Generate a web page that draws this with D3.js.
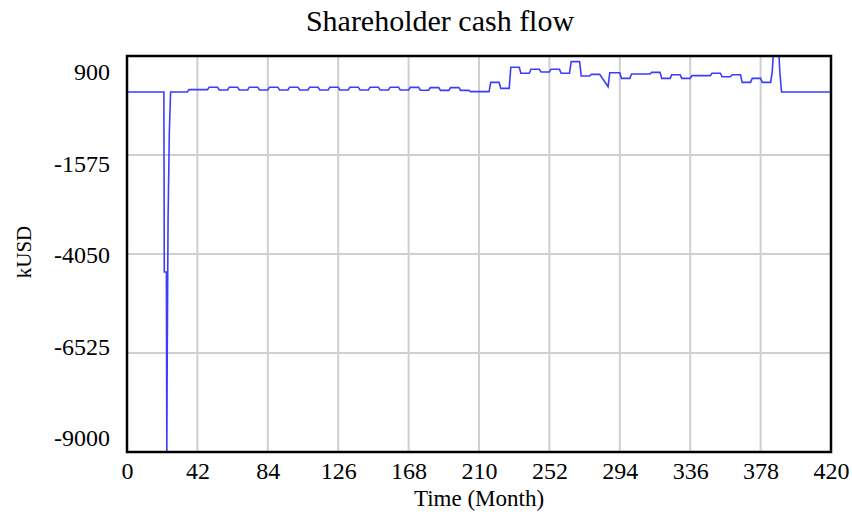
<!DOCTYPE html>
<html>
<head>
<meta charset="utf-8">
<script src="https://cdn.jsdelivr.net/npm/d3@7"></script>
<style>
  body { margin: 0; background: #fff; }
  text { font-family: "Liberation Serif", "Times New Roman", serif; fill: #000; }
</style>
</head>
<body>
<svg id="chart" width="852" height="515"></svg>
<script>
// Axis ticks
const monthTicks = [0, 42, 84, 126, 168, 210, 252, 294, 336, 378, 420];
const valueTicks = [900, -1575, -4050, -6525, -9000];

// Shareholder cash flow (kUSD) at each corner of the simulated curve
const timeMonths = [
  0, 22, 22.25, 23.5, 23.75, 24, 24.5, 25.25, 26,
  36, 37, 48, 49, 54, 55, 60, 61, 66, 67, 72, 73, 78, 79, 84, 85, 90, 91, 96,
  97, 102, 103, 108, 109, 114, 115, 120, 121, 126, 127, 132, 133, 138, 139, 144,
  145, 150, 151, 156, 157, 162, 163, 168, 169, 174, 175, 180, 181, 186, 187, 192,
  193, 198, 199, 204, 205, 216, 217, 222, 223, 228, 229, 234, 235, 240, 241, 246,
  247, 252, 253, 258, 259, 264, 265, 270, 271, 276, 277, 282, 287, 288, 294, 295,
  300, 301, 312, 313, 318, 319, 324, 325, 330, 331, 336, 337, 348, 349, 354, 355,
  360, 361, 366, 367, 372, 373, 378, 379, 384, 385, 385.5, 389, 389.5, 390.5, 420
];
const cashFlowKUSD = [
  0, 0, -4500, -4500, -9000, -6600, -3200, -1000, 0,
  0, 60, 60, 120, 120, 50, 50, 120, 120, 50, 50, 120, 120, 50, 50, 120, 120, 50, 50,
  120, 120, 50, 50, 120, 120, 50, 50, 120, 120, 50, 50, 120, 120, 50, 50,
  120, 120, 50, 50, 120, 120, 50, 50, 115, 115, 45, 45, 110, 110, 40, 40,
  110, 110, 40, 40, 10, 10, 240, 240, 90, 90, 620, 620, 470, 470, 570, 570,
  500, 500, 570, 570, 470, 470, 760, 760, 400, 400, 440, 440, 130, 480, 480, 340,
  340, 450, 450, 490, 490, 340, 340, 430, 430, 340, 340, 410, 410, 470, 470, 380,
  380, 430, 430, 240, 240, 340, 340, 240, 240, 530, 900, 900, 480, 0, 0
];

const svg = d3.select("#chart");
const plot = { left: 127, right: 831, top: 56, bottom: 452 };

const x = d3.scaleLinear().domain([0, 420]).range([plot.left, plot.right]);
const y = d3.scaleLinear().domain([-9000, 900]).range([plot.bottom, plot.top]);
// value labels sit slightly inside the frame, spread between its edges
const yLabel = d3.scaleLinear().domain([-9000, 900]).range([plot.bottom - 14, plot.top + 16]);

// grid
const grid = svg.append("g").attr("stroke", "#cfcfcf").attr("stroke-width", 2);
grid.selectAll("line.v").data(monthTicks.slice(1, -1)).join("line")
  .attr("class", "v")
  .attr("x1", d => x(d)).attr("x2", d => x(d))
  .attr("y1", plot.top).attr("y2", plot.bottom);
grid.selectAll("line.h").data(valueTicks.slice(1, -1)).join("line")
  .attr("class", "h")
  .attr("x1", plot.left).attr("x2", plot.right)
  .attr("y1", d => y(d)).attr("y2", d => y(d));

// series
svg.append("clipPath").attr("id", "plotClip")
  .append("rect")
  .attr("x", plot.left).attr("y", plot.top)
  .attr("width", plot.right - plot.left).attr("height", plot.bottom - plot.top);

const series = timeMonths.map((t, i) => [t, cashFlowKUSD[i]]);
svg.append("path")
  .datum(series)
  .attr("clip-path", "url(#plotClip)")
  .attr("fill", "none")
  .attr("stroke", "#3c3cff")
  .attr("stroke-width", 1.6)
  .attr("d", d3.line().x(d => x(d[0])).y(d => y(d[1])));

// frame
svg.append("rect")
  .attr("x", plot.left).attr("y", plot.top)
  .attr("width", plot.right - plot.left).attr("height", plot.bottom - plot.top)
  .attr("fill", "none").attr("stroke", "#000").attr("stroke-width", 2.5);

// axes (plain hyphen-minus for negative labels)
const plainNumber = d => String(d);

const xAxis = svg.append("g")
  .attr("transform", `translate(0,${plot.bottom})`)
  .call(d3.axisBottom(x).tickValues(monthTicks).tickSize(0).tickPadding(10).tickFormat(plainNumber));
xAxis.select(".domain").remove();
xAxis.selectAll("text").style("font-size", "24px").style("font-family", "Liberation Serif");

const yAxis = svg.append("g")
  .attr("transform", `translate(${plot.left},0)`)
  .call(d3.axisLeft(yLabel).tickValues(valueTicks).tickSize(0).tickPadding(17).tickFormat(plainNumber));
yAxis.select(".domain").remove();
yAxis.selectAll("text").style("font-size", "24px").style("font-family", "Liberation Serif");

// titles
svg.append("text")
  .attr("x", 440).attr("y", 31)
  .attr("text-anchor", "middle")
  .style("font-size", "30px")
  .text("Shareholder cash flow");

svg.append("text")
  .attr("x", 479).attr("y", 506)
  .attr("text-anchor", "middle")
  .style("font-size", "23px")
  .text("Time (Month)");

svg.append("text")
  .attr("transform", "translate(26,252) rotate(-90)")
  .attr("text-anchor", "middle")
  .attr("dominant-baseline", "middle")
  .style("font-size", "21px")
  .text("kUSD");
</script>
</body>
</html>
